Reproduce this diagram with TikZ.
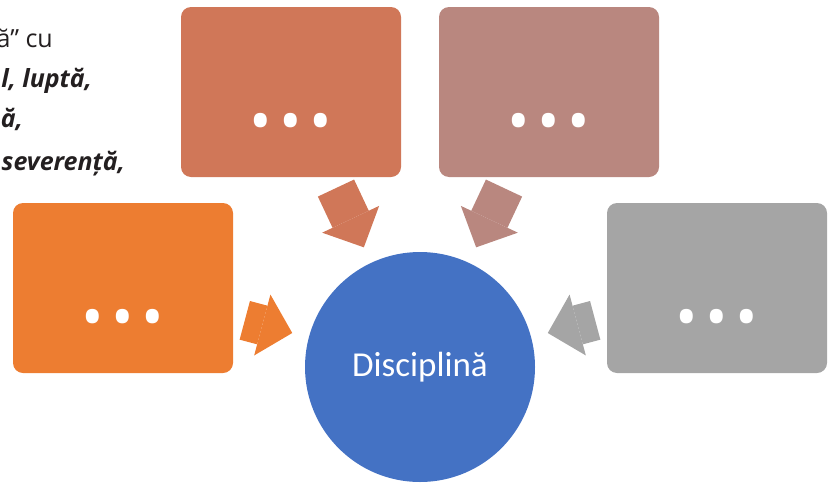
\documentclass[tikz,border=0pt]{standalone}
\usepackage{fontspec}
\setmainfont{Open Sans}
\newfontfamily\calibri{Carlito}
\usetikzlibrary{arrows.meta}
\definecolor{discblue}{HTML}{4472C4}
\definecolor{orng}{HTML}{ED7D31}
\definecolor{terra}{HTML}{D07758}
\definecolor{rose}{HTML}{B9877F}
\definecolor{grey}{HTML}{A5A5A5}
\definecolor{ink}{HTML}{231F20}
\newcommand{\threedots}{•\hspace{7.5pt}•\hspace{7.5pt}•}

\begin{document}
\begin{tikzpicture}[x=1pt, y=-1pt]
\tikzstyle{idea}=[rectangle, rounded corners=10pt, minimum width=220pt, minimum height=170pt, inner sep=0pt, text=white, font=\fontsize{60}{60}\selectfont, text height=101pt, text depth=0pt]
\tikzstyle{connect}=[draw, line width=40pt, -{Triangle[length=31pt, width=63pt, line width=0pt]}, shorten <=12pt, shorten >=17pt]
\tikzstyle{prose}=[anchor=base east, inner sep=0pt, text=ink, font=\fontsize{25}{25}\selectfont\bfseries\itshape]
\useasboundingbox (0,0) rectangle (832,482);
\clip (0,0) rectangle (832,482);
\node[circle, fill=discblue, minimum size=230pt, inner sep=0pt, text=white, font=\calibri\fontsize{35}{35}\selectfont] (disc) at (420,367) {Disciplină};
\node[idea, fill=orng] (boxl) at (123,288) {\threedots};
\node[idea, fill=terra] (boxtl) at (291,92) {\threedots};
\node[idea, fill=rose] (boxtr) at (549,92) {\threedots};
\node[idea, fill=grey] (boxr) at (717,288) {\threedots};
\node[anchor=base east, inner sep=0pt, text=ink, font=\fontsize{25}{25}\selectfont] (txta) at (53,47) {ă” cu};
\node[prose] (txtb) at (92,87) {l, luptă,};
\node[prose] (txtc) at (23,127) {ă,};
\node[prose] (txtd) at (125,170) {severență,};
\path
    (boxl) edge [connect, orng] (disc)
    (boxtl) edge [connect, terra] (disc)
    (boxtr) edge [connect, rose] (disc)
    (boxr) edge [connect, grey] (disc)
;
\end{tikzpicture}
\end{document}
